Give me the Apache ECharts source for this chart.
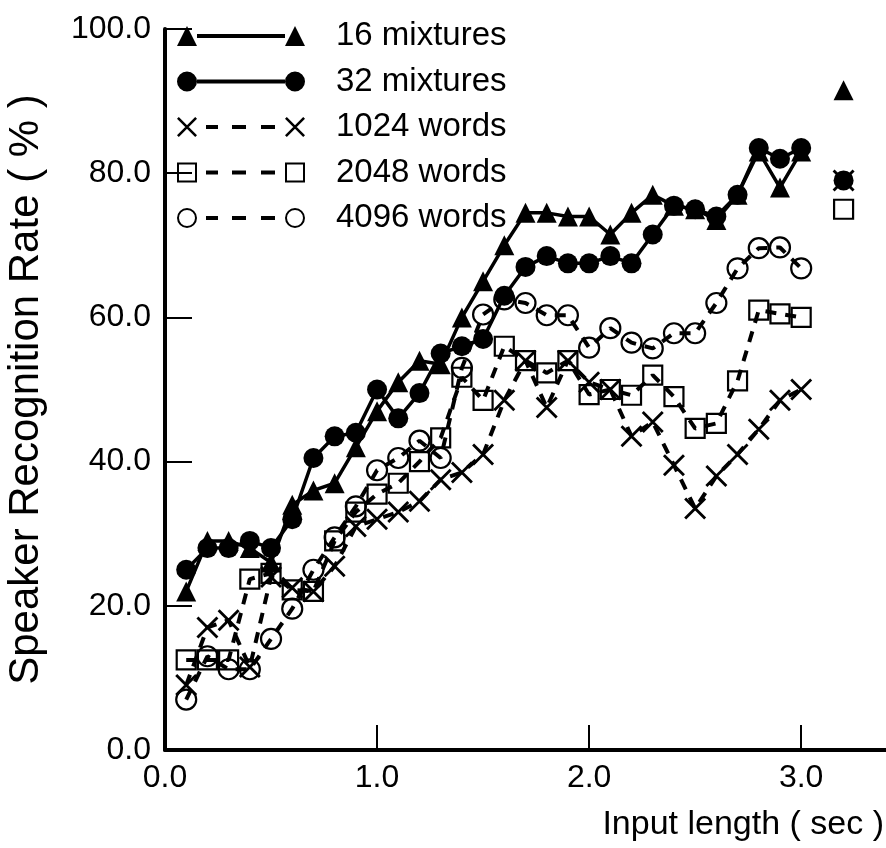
<!DOCTYPE html>
<html>
<head>
<meta charset="utf-8">
<script src="https://cdn.jsdelivr.net/npm/echarts@6/dist/echarts.min.js"></script>
<style>html,body{margin:0;padding:0;background:#fff}#c{width:886px;height:848px}</style>
</head>
<body>
<div id="c"></div>
<script>
// ---- data ----
const inputLength = [0.1,0.2,0.3,0.4,0.5,0.6,0.7,0.8,0.9,1.0,1.1,1.2,1.3,1.4,1.5,1.6,1.7,1.8,1.9,2.0,2.1,2.2,2.3,2.4,2.5,2.6,2.7,2.8,2.9,3.0];
const mixtures16 = [22,29,29,28,26,34,36,37,42,47,51,54,53.5,60,65,70,74.5,74.5,74,74,71.5,74.5,77,75.5,75,73.5,77,83,78,83];
const mixtures32 = [25,28,28,29,28,32,40.5,43.5,44,50,46,49.5,55,56,57,63,67,68.5,67.5,67.5,68.5,67.5,71.5,75.5,75,74,77,83.5,82,83.5];
const words1024 = [9,17,18,11.5,24,22.5,22,25.5,31,32,33,34.5,37.5,38.5,41,48.5,54,47.5,54,51,50,43.5,45.5,39.5,33.5,38,41,44.5,48.5,50];
const words2048 = [12.5,12.5,12.5,23.7,24.5,22.2,22,29,33,35.5,37,40,43.3,51.7,48.5,56,54,52.3,54,49.3,50,49.2,52,49,44.6,45.3,51.2,61,60.5,60];
const words4096 = [7,13,11.2,11.2,15.4,19.6,25,29.5,33.8,38.8,40.5,42.9,40.5,53,60.4,62.5,62,60.3,60.3,55.8,58.5,56.5,55.7,57.8,57.8,62,66.8,69.6,69.7,66.8];
// separate (unconnected) points at the right
const separateX = 3.2;
const separate16 = 91.5;
const separate32 = 79;
const separate1024 = 79;
const separate2048 = 75;
const xTicks = [0, 1, 2, 3];
const yTicks = [0, 20, 40, 60, 80, 100];
const seriesNames = ['16 mixtures', '32 mixtures', '1024 words', '2048 words', '4096 words'];

// ---- styling helpers ----
const FONT = 'Liberation Sans, Arial, sans-serif';
const crossPath = 'path://M0,2 L2,0 L22,20 L20,22 Z M20,0 L22,2 L2,22 L0,20 Z';
function pairs(ys) { return inputLength.map((x, i) => [x, ys[i]]); }

// legend icons: marker - line - marker (128 x 20 box)
const solidLine = 'M20,8 L108,8 L108,12 L20,12 Z';
const dashLine = 'M29,8 L41,8 L41,12 L29,12 Z M55,8 L69,8 L69,12 L55,12 Z M84,8 L98,8 L98,12 L84,12 Z';
function tri(o){return `M${o},20 L${o+10},0 L${o+20},20 Z`;}
function disc(o){return `M${o},10 A10,10 0 1,1 ${o+20},10 A10,10 0 1,1 ${o},10 Z`;}
function ring(o){return disc(o)+` M${o+2},10 A8,8 0 1,0 ${o+18},10 A8,8 0 1,0 ${o+2},10 Z`;}
function box(o){return `M${o},0 L${o+20},0 L${o+20},20 L${o},20 Z M${o+2},2 L${o+2},18 L${o+18},18 L${o+18},2 Z`;}
function cross(o){return `M${o},1.8 L${o+1.8},0 L${o+20},18.2 L${o+18.2},20 Z M${o+18.2},0 L${o+20},1.8 L${o+1.8},20 L${o},18.2 Z`;}
const legendIcons = [
  'path://' + tri(0) + ' ' + solidLine + ' ' + tri(108),
  'path://' + disc(0) + ' ' + solidLine + ' ' + disc(108),
  'path://' + cross(0) + ' ' + dashLine + ' ' + cross(108),
  'path://' + box(0) + ' ' + dashLine + ' ' + box(108),
  'path://' + ring(0) + ' ' + dashLine + ' ' + ring(108)
];

const solid = { color: '#000', width: 3.5, type: 'solid' };
const dashed = { color: '#000', width: 4, type: [11, 9] };
const hollow = { color: 'rgba(0,0,0,0)', borderColor: '#000', borderWidth: 2.2, opacity: 1 };
const filled = { color: '#000', opacity: 1 };

const chart = echarts.init(document.getElementById('c'), null, { renderer: 'canvas' });
chart.setOption({
  animation: false,
  backgroundColor: '#fff',
  grid: { left: 165, right: 0, top: 29, bottom: 98, containLabel: false, outerBoundsMode: 'none' },
  legend: {
    orient: 'vertical', left: 172, top: 14,
    itemWidth: 128, itemHeight: 20, itemGap: 11.5,
    selectedMode: false,
    itemStyle: { color: '#000', borderWidth: 0 },
    textStyle: { fontFamily: FONT, fontSize: 33, color: '#000', lineHeight: 34, padding: [0, 0, 0, 26] },
    data: seriesNames.map((n, i) => ({ name: n, icon: legendIcons[i] }))
  },
  xAxis: {
    type: 'value', min: 0, max: 3.4, interval: 1,
    name: 'Input length ( sec )', nameLocation: 'end', nameGap: -2,
    nameTextStyle: { fontFamily: FONT, fontSize: 34, color: '#000', align: 'right', verticalAlign: 'top', padding: [58, 0, 0, 0] },
    axisLine: { lineStyle: { color: '#000', width: 4 } },
    axisTick: { inside: true, length: 25, lineStyle: { color: '#000', width: 2 }, customValues: xTicks },
    axisLabel: { fontFamily: FONT, fontSize: 32, color: '#000', margin: 12, customValues: xTicks, formatter: v => v.toFixed(1) },
    splitLine: { show: false }
  },
  yAxis: {
    type: 'value', min: 0, max: 100, interval: 20,
    name: 'Speaker Recognition Rate ( % )', nameLocation: 'middle', nameGap: 118,
    nameTextStyle: { fontFamily: FONT, fontSize: 42, color: '#000' },
    axisLine: { show: true, lineStyle: { color: '#000', width: 4 } },
    axisTick: { show: true, inside: true, length: 27, lineStyle: { color: '#000', width: 2 }, customValues: yTicks },
    axisLabel: { fontFamily: FONT, fontSize: 32, color: '#000', margin: 14, customValues: yTicks, formatter: v => v.toFixed(1) },
    splitLine: { show: false }
  },
  series: [
    { name: seriesNames[0], type: 'line', data: pairs(mixtures16), symbol: 'triangle', symbolSize: 20,
      itemStyle: filled, lineStyle: solid, z: 5 },
    { name: seriesNames[1], type: 'line', data: pairs(mixtures32), symbol: 'circle', symbolSize: 20,
      itemStyle: filled, lineStyle: solid, z: 5 },
    { name: seriesNames[2], type: 'line', data: pairs(words1024), symbol: crossPath, symbolSize: 22,
      itemStyle: filled, lineStyle: dashed, z: 4 },
    { name: seriesNames[3], type: 'line', data: pairs(words2048), symbol: 'rect', symbolSize: 19,
      itemStyle: hollow, lineStyle: dashed, z: 4 },
    { name: seriesNames[4], type: 'line', data: pairs(words4096), symbol: 'circle', symbolSize: 20,
      itemStyle: hollow, lineStyle: dashed, z: 4 },
    { name: 'sep16', type: 'scatter', data: [[separateX, separate16]], symbol: 'triangle', symbolSize: 20, itemStyle: filled },
    { name: 'sep1024', type: 'scatter', data: [[separateX, separate1024]], symbol: crossPath, symbolSize: 22, itemStyle: filled },
    { name: 'sep32', type: 'scatter', data: [[separateX, separate32]], symbol: 'circle', symbolSize: 20, itemStyle: filled },
    { name: 'sep2048', type: 'scatter', data: [[separateX, separate2048]], symbol: 'rect', symbolSize: 19, itemStyle: hollow }
  ]
});
</script>
</body>
</html>
